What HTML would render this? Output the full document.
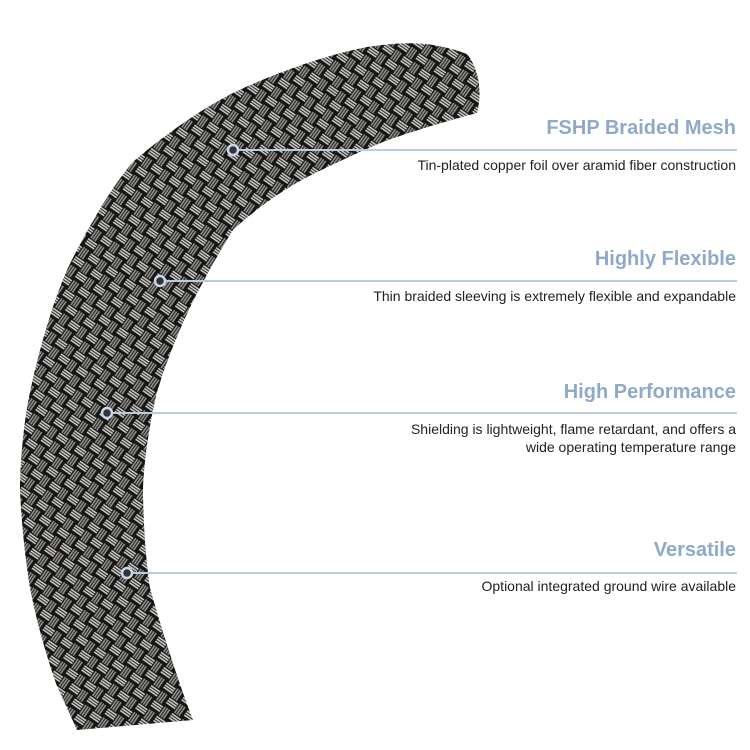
<!DOCTYPE html>
<html><head><style>
html,body{margin:0;padding:0;background:#fff}
body{width:750px;height:750px;position:relative;overflow:hidden;font-family:"Liberation Sans",sans-serif}
.h{position:absolute;right:14px;color:#8fa9c9;font-size:20px;font-weight:bold;white-space:nowrap}
.d{position:absolute;right:14px;color:#222;font-size:14px;text-align:right;line-height:18px;white-space:nowrap}
</style></head><body>
<svg width="750" height="750" style="position:absolute;left:0;top:0">
<defs>
<pattern id="p" width="22" height="22" patternUnits="userSpaceOnUse" patternTransform="rotate(35)">
<rect width="22" height="22" fill="#161616"/>
<path d="M0 2h11M0 4.5h11M0 7h11M11 13h11M11 15.5h11M11 18h11" stroke="#d8d5cf" stroke-width="1.5"/>
<path d="M13 0v11M15.5 0v11M18 0v11M2 11v11M4.5 11v11M7 11v11" stroke="#9c9891" stroke-width="1.5"/>
</pattern>
<clipPath id="c"><path d="M467 54 C430 40 400 42 367 47 C300 60 233 93 233 93 C180 120 133 162 133 162 C100 200 67 270 67 270 C45 320 30 392 30 392 C20 440 20 490 20 490 C22 540 30 588 30 588 C40 640 57 686 57 686 L77 730 L193 720 C170 660 150 588 150 588 C143 540 143 490 143 490 C145 440 157 392 157 392 C170 350 187 314 187 314 C205 275 233 230 233 230 C265 200 300 181 300 181 C340 160 383 142 383 142 C420 128 477 113 477 113 C482 95 480 70 467 54Z"/></clipPath>
</defs>
<g clip-path="url(#c)"><rect width="750" height="750" fill="url(#p)"/></g>
<g stroke="#b7cbe3" stroke-width="2">
<line x1="233" y1="150" x2="737" y2="150"/>
<line x1="160" y1="281" x2="737" y2="281"/>
<line x1="107" y1="413" x2="737" y2="413"/>
<line x1="127" y1="573" x2="737" y2="573"/>
</g>
<g fill="#333" stroke="#c8d8ec" stroke-width="2.5">
<circle cx="233" cy="150" r="5"/><circle cx="160" cy="281" r="5"/><circle cx="107" cy="413" r="5"/><circle cx="127" cy="573" r="5"/>
</g>
</svg>
<div class="h" style="top:117px">FSHP Braided Mesh</div>
<div class="d" style="top:156px">Tin-plated copper foil over aramid fiber construction</div>
<div class="h" style="top:248px">Highly Flexible</div>
<div class="d" style="top:287px">Thin braided sleeving is extremely flexible and expandable</div>
<div class="h" style="top:381px">High Performance</div>
<div class="d" style="top:420px">Shielding is lightweight, flame retardant, and offers a<br>wide operating temperature range</div>
<div class="h" style="top:539px">Versatile</div>
<div class="d" style="top:577px">Optional integrated ground wire available</div>
</body></html>
